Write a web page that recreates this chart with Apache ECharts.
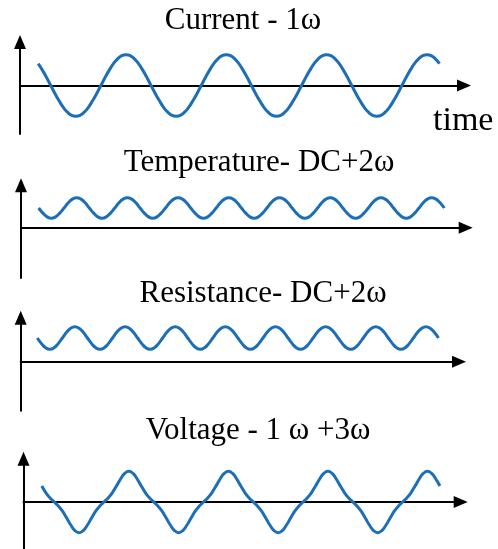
<!DOCTYPE html>
<html>
<head>
<meta charset="utf-8">
<title>Current / Temperature / Resistance / Voltage</title>
<script src="https://cdn.jsdelivr.net/npm/echarts@6/dist/echarts.min.js"></script>
<style>
  html, body { margin: 0; padding: 0; background: #fff; }
  #chart { width: 498px; height: 549px; }
</style>
</head>
<body>
<div id="chart"></div>
<script>
// phase of the 1ω current, in degrees (one sample every 15°)
const phase = [
  -225, -210, -195, -180, -165, -150, -135, -120, -105, -90, -75, -60, -45, -30, -15,
  0, 15, 30, 45, 60, 75, 90, 105, 120, 135, 150, 165, 180, 195, 210, 225, 240, 255, 270, 285, 300, 315, 330, 345,
  360, 375, 390, 405, 420, 435, 450, 465, 480, 495, 510, 525, 540, 555, 570, 585, 600, 615, 630, 645, 660, 675, 690, 705,
  720, 735, 750, 765, 780, 795, 810, 825, 840, 855, 870, 885, 900, 915, 930, 945, 960, 975, 990, 1005, 1020, 1035, 1050, 1065,
  1080, 1095, 1110, 1125, 1140, 1155, 1170, 1185, 1200, 1215
]

// current, in units of its amplitude
const current = [
  0.71, 0.5, 0.26, 0, -0.26, -0.5, -0.71, -0.87, -0.97, -1, -0.97, -0.87, -0.71, -0.5, -0.26, 0, 0.26, 0.5, 0.71, 0.87, 0.97, 1, 0.97, 0.87,
  0.71, 0.5, 0.26, 0, -0.26, -0.5, -0.71, -0.87, -0.97, -1, -0.97, -0.87, -0.71, -0.5, -0.26, 0, 0.26, 0.5, 0.71, 0.87, 0.97, 1, 0.97, 0.87,
  0.71, 0.5, 0.26, 0, -0.26, -0.5, -0.71, -0.87, -0.97, -1, -0.97, -0.87, -0.71, -0.5, -0.26, 0, 0.26, 0.5, 0.71, 0.87, 0.97, 1, 0.97, 0.87,
  0.71, 0.5, 0.26, 0, -0.26, -0.5, -0.71, -0.87, -0.97, -1, -0.97, -0.87, -0.71, -0.5, -0.26, 0, 0.26, 0.5, 0.71, 0.87, 0.97, 1, 0.97, 0.87,
  0.71
]

// temperature: DC level plus a 2ω ripple
const temperature = [
  1.97, 1.46, 1.08, 0.94, 1.08, 1.46, 1.97, 2.49, 2.86, 3.0, 2.86, 2.49,
  1.97, 1.46, 1.08, 0.94, 1.08, 1.46, 1.97, 2.49, 2.86, 3.0, 2.86, 2.49,
  1.97, 1.46, 1.08, 0.94, 1.08, 1.46, 1.97, 2.49, 2.86, 3.0, 2.86, 2.49,
  1.97, 1.46, 1.08, 0.94, 1.08, 1.46, 1.97, 2.49, 2.86, 3.0, 2.86, 2.49,
  1.97, 1.46, 1.08, 0.94, 1.08, 1.46, 1.97, 2.49, 2.86, 3.0, 2.86, 2.49,
  1.97, 1.46, 1.08, 0.94, 1.08, 1.46, 1.97, 2.49, 2.86, 3.0, 2.86, 2.49,
  1.97, 1.46, 1.08, 0.94, 1.08, 1.46, 1.97, 2.49, 2.86, 3.0, 2.86, 2.49,
  1.97, 1.46, 1.08, 0.94, 1.08, 1.46, 1.97, 2.49, 2.86, 3.0, 2.86, 2.49,
  1.97
]

// resistance: DC level plus a 2ω ripple
const resistance = [
  2.37, 1.81, 1.39, 1.24, 1.39, 1.81, 2.37, 2.94, 3.35, 3.5, 3.35, 2.94,
  2.37, 1.81, 1.39, 1.24, 1.39, 1.81, 2.37, 2.94, 3.35, 3.5, 3.35, 2.94,
  2.37, 1.81, 1.39, 1.24, 1.39, 1.81, 2.37, 2.94, 3.35, 3.5, 3.35, 2.94,
  2.37, 1.81, 1.39, 1.24, 1.39, 1.81, 2.37, 2.94, 3.35, 3.5, 3.35, 2.94,
  2.37, 1.81, 1.39, 1.24, 1.39, 1.81, 2.37, 2.94, 3.35, 3.5, 3.35, 2.94,
  2.37, 1.81, 1.39, 1.24, 1.39, 1.81, 2.37, 2.94, 3.35, 3.5, 3.35, 2.94,
  2.37, 1.81, 1.39, 1.24, 1.39, 1.81, 2.37, 2.94, 3.35, 3.5, 3.35, 2.94,
  2.37, 1.81, 1.39, 1.24, 1.39, 1.81, 2.37, 2.94, 3.35, 3.5, 3.35, 2.94,
  2.37
]

// voltage: 1ω with a small 3ω part (slight shoulders at the zero crossings)
const voltage = [
  0.52, 0.3, 0.13, 0, -0.13, -0.3, -0.52, -0.75, -0.93, -1, -0.93, -0.75, -0.52, -0.3, -0.13, 0, 0.13, 0.3, 0.52, 0.75, 0.93, 1, 0.93, 0.75,
  0.52, 0.3, 0.13, 0, -0.13, -0.3, -0.52, -0.75, -0.93, -1, -0.93, -0.75, -0.52, -0.3, -0.13, 0, 0.13, 0.3, 0.52, 0.75, 0.93, 1, 0.93, 0.75,
  0.52, 0.3, 0.13, 0, -0.13, -0.3, -0.52, -0.75, -0.93, -1, -0.93, -0.75, -0.52, -0.3, -0.13, 0, 0.13, 0.3, 0.52, 0.75, 0.93, 1, 0.93, 0.75,
  0.52, 0.3, 0.13, 0, -0.13, -0.3, -0.52, -0.75, -0.93, -1, -0.93, -0.75, -0.52, -0.3, -0.13, 0, 0.13, 0.3, 0.52, 0.75, 0.93, 1, 0.93, 0.75,
  0.52
]

const titles = ['Current - 1ω', 'Temperature- DC+2ω', 'Resistance- DC+2ω', 'Voltage - 1 ω +3ω']
const axisName = 'time'

const waveColor = '#1c6fb6'
const serif = '"Liberation Serif", "Times New Roman", serif'

// one box per panel: grid in pixels plus the axis ranges
const panels = [
  { values: current, left: 20, top: 42, width: 444, height: 92, xMin: -290.3, xMax: 1302.8, yMin: -1.58, yMax: 1.417, titleX: 243, titleY: 20.5 },
  { values: temperature, left: 21, top: 185.3, width: 444.7, height: 92.7, xMin: -287.7, xMax: 1290.9, yMin: -5.03, yMax: 4.24, titleX: 259, titleY: 163 },
  { values: resistance, left: 20.7, top: 317.7, width: 438.3, height: 93, xMin: -284.6, xMax: 1288.6, yMin: -4.9, yMax: 4.4, titleX: 263, titleY: 294 },
  { values: voltage, left: 23.5, top: 458.7, width: 437.2, height: 90.3, xMin: -291.1, xMax: 1290.1, yMin: -1.53, yMax: 1.41, titleX: 258, titleY: 431 }
]

const axisLine = (onZero) => ({
  show: true,
  onZero: onZero,
  symbol: ['none', 'triangle'],
  symbolSize: [12, 14],
  lineStyle: { color: '#000', width: 2 }
})

const hidden = {
  axisTick: { show: false },
  axisLabel: { show: false },
  splitLine: { show: false }
}

const chart = echarts.init(document.getElementById('chart'))

const option = {
  animation: false,
  backgroundColor: '#fff',
  grid: panels.map(p => ({ left: p.left, top: p.top, width: p.width, height: p.height, containLabel: false })),
  xAxis: panels.map((p, i) => ({
    type: 'value',
    gridIndex: i,
    min: p.xMin,
    max: p.xMax,
    axisLine: axisLine(true),
    ...hidden
  })),
  yAxis: panels.map((p, i) => ({
    type: 'value',
    gridIndex: i,
    min: p.yMin,
    max: p.yMax,
    axisLine: axisLine(false),
    ...hidden
  })),
  series: panels.map((p, i) => ({
    type: 'line',
    xAxisIndex: i,
    yAxisIndex: i,
    smooth: true,
    showSymbol: false,
    silent: true,
    lineStyle: { color: waveColor, width: 3 },
    data: phase.map((t, k) => [t, p.values[k]])
  })),
  graphic: [
    ...panels.map((p, i) => ({
      type: 'text',
      x: p.titleX,
      y: p.titleY,
      style: {
        text: titles[i],
        font: '31px ' + serif,
        fill: '#000',
        textAlign: 'center',
        textVerticalAlign: 'middle'
      }
    })),
    {
      type: 'text',
      x: 433,
      y: 121.5,
      style: {
        text: axisName,
        font: '34px ' + serif,
        fill: '#000',
        textAlign: 'left',
        textVerticalAlign: 'middle'
      }
    }
  ]
}

chart.setOption(option)

window.addEventListener('resize', () => chart.resize())
</script>
</body>
</html>
